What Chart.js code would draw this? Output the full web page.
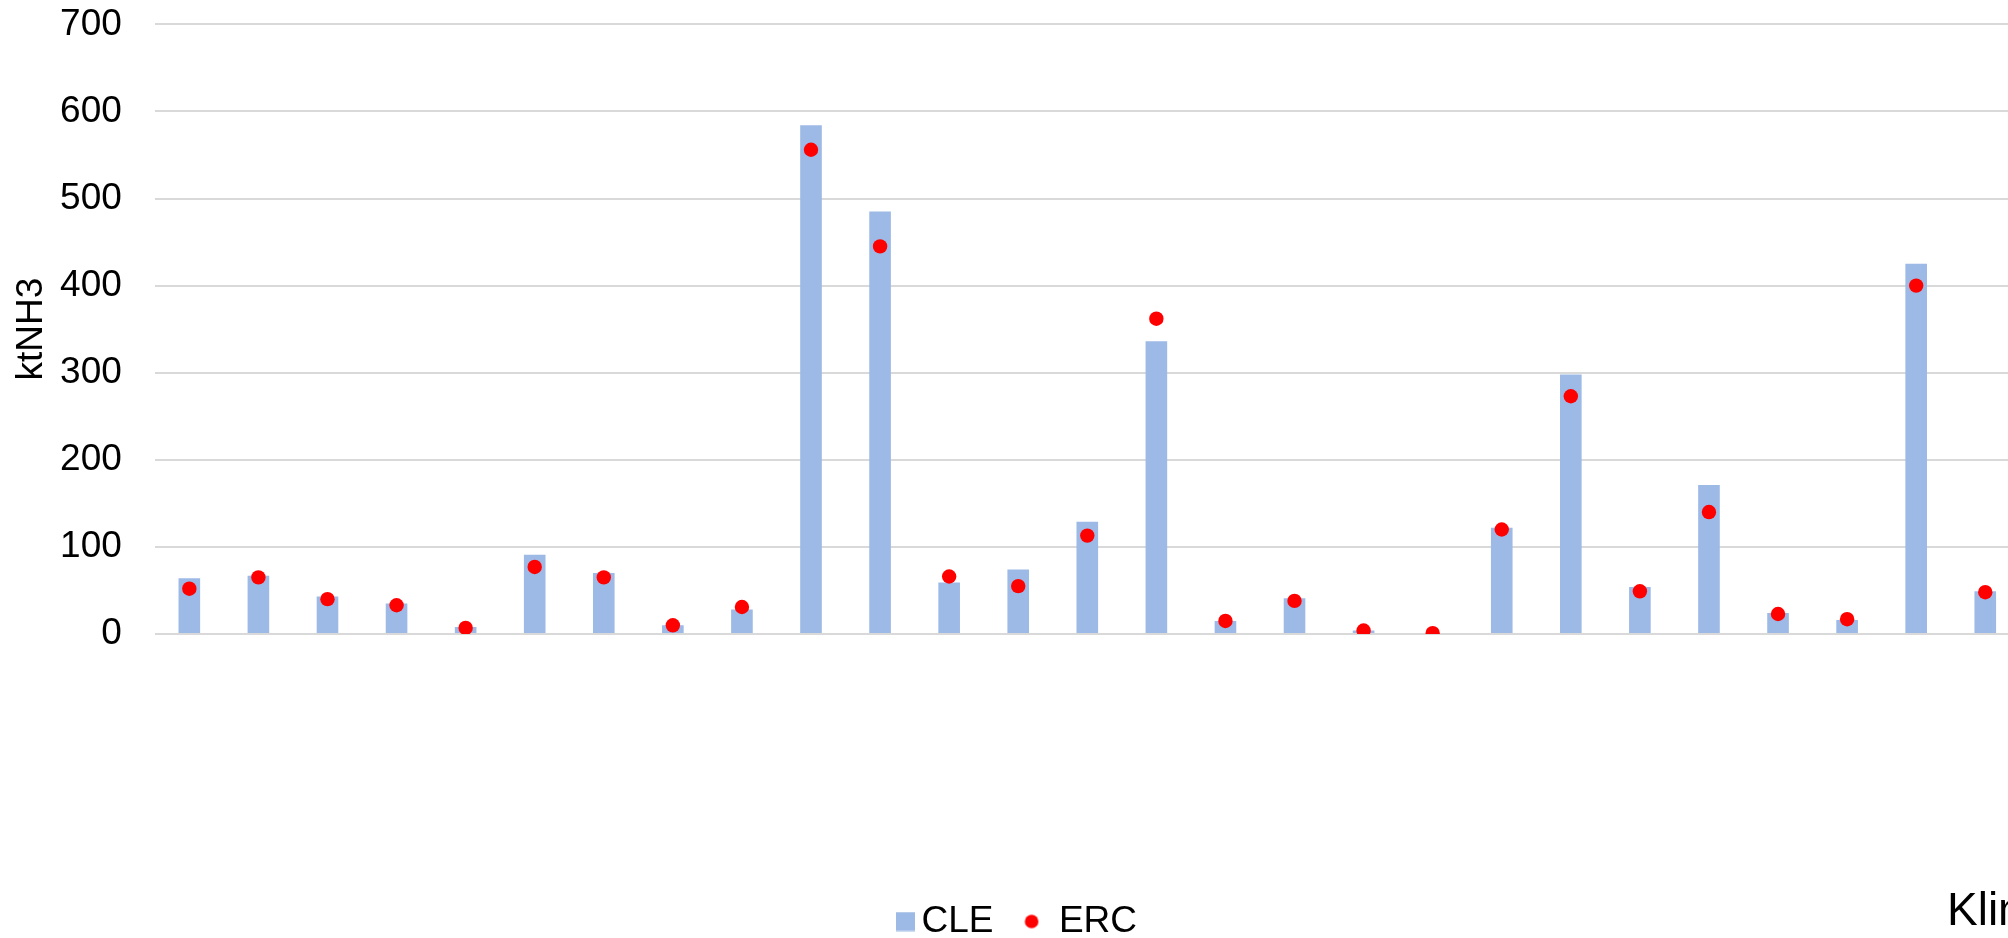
<!DOCTYPE html>
<html>
<head>
<meta charset="utf-8">
<script src="https://cdn.jsdelivr.net/npm/chart.js@4/dist/chart.umd.min.js"></script>
<style>
  html, body { margin: 0; padding: 0; background: #ffffff; overflow: hidden; }
  #wrap { width: 2027px; height: 950px; }
</style>
</head>
<body>
<div id="wrap"><canvas id="c" width="2027" height="950"></canvas></div>
<script>
// ---- data ----
const categories = ['1','2','3','4','5','6','7','8','9','10','11','12','13','14','15','16','17','18','19','20','21','22','23','24','25','26','27'];
const cleValues = [64, 67, 43, 35, 8, 91, 70, 10, 28, 584, 485, 59, 74, 129, 336, 15, 41, 4, 0, 122, 298, 54, 171, 24, 16, 425, 49];
const ercValues = [52, 65, 40, 33, 7, 77, 65, 10, 31, 556, 445, 66, 55, 113, 362, 15, 38, 4, 1, 120, 273, 49, 140, 23, 17, 400, 48];
const seriesNames = ['CLE', 'ERC'];
const yTicks = [0, 100, 200, 300, 400, 500, 600, 700];
const yTitle = 'ktNH3';
const cornerText = 'Klim';

const FONT = "'Liberation Sans', Arial, sans-serif";
const BAR_COLOR = '#9db9e6';
const DOT_COLOR = '#ff0000';

// legend marker images
function squareImg() {
  const c = document.createElement('canvas');
  c.width = 26; c.height = 20;
  const g = c.getContext('2d');
  g.fillStyle = BAR_COLOR;
  g.fillRect(6, 0.5, 19, 19);
  return c;
}
function dotImg() {
  const c = document.createElement('canvas');
  c.width = 40; c.height = 16;
  const g = c.getContext('2d');
  g.fillStyle = DOT_COLOR;
  g.beginPath();
  g.arc(20 - 8.8, 8, 6.8, 0, Math.PI * 2);
  g.fill();
  return c;
}
const legendImgs = [squareImg(), dotImg()];

const cornerTextPlugin = {
  id: 'cornerText',
  afterDraw(chart) {
    const ctx = chart.ctx;
    ctx.save();
    ctx.font = '46px ' + FONT;
    ctx.fillStyle = '#000000';
    ctx.textAlign = 'left';
    ctx.textBaseline = 'alphabetic';
    ctx.fillText(cornerText, 1947, 925);
    ctx.restore();
  }
};

new Chart(document.getElementById('c'), {
  data: {
    labels: categories,
    datasets: [
      {
        type: 'line',
        label: seriesNames[1],
        data: ercValues,
        showLine: false,
        pointRadius: 7.2,
        pointHoverRadius: 7.2,
        pointBackgroundColor: DOT_COLOR,
        pointBorderWidth: 0,
        borderColor: DOT_COLOR,
        backgroundColor: DOT_COLOR,
        order: 0
      },
      {
        type: 'bar',
        label: seriesNames[0],
        data: cleValues,
        backgroundColor: BAR_COLOR,
        borderWidth: 0,
        barPercentage: 1,
        categoryPercentage: 0.313,
        order: 1
      }
    ]
  },
  options: {
    responsive: false,
    animation: false,
    devicePixelRatio: 1,
    layout: { padding: { left: 13, top: 24.3, right: 0, bottom: 0 } },
    plugins: {
      tooltip: { enabled: false },
      legend: {
        position: 'bottom',
        align: 'center',
        labels: {
          usePointStyle: true,
          boxWidth: 0.01,
          padding: 47,
          color: '#000000',
          font: { family: FONT, size: 37 },
          generateLabels(chart) {
            const items = Chart.defaults.plugins.legend.labels.generateLabels(chart);
            items.forEach(it => {
              it.pointStyle = it.text === seriesNames[0] ? legendImgs[0] : legendImgs[1];
            });
            items.sort((a, b) => seriesNames.indexOf(a.text) - seriesNames.indexOf(b.text));
            return items;
          }
        }
      }
    },
    scales: {
      x: {
        display: true,
        offset: true,
        grid: { display: false },
        border: { display: false },
        ticks: { display: false },
        afterFit(scale) {
          scale.height = 222;
          scale.paddingLeft = 0;
          scale.paddingRight = 0;
        }
      },
      y: {
        min: 0,
        max: 700,
        afterBuildTicks(scale) { scale.ticks = yTicks.map(v => ({ value: v })); },
        afterFit(scale) {
          scale.width = 141.8;
          scale.paddingTop = 0;
          scale.paddingBottom = 0;
        },
        grid: { color: '#d9d9d9', lineWidth: 2, drawTicks: false },
        border: { display: false },
        ticks: {
          padding: 33,
          color: '#000000',
          font: { family: FONT, size: 37 }
        },
        title: {
          display: true,
          text: yTitle,
          color: '#000000',
          font: { family: FONT, size: 37, lineHeight: 1 },
          padding: { top: 0, bottom: 10 }
        }
      }
    }
  },
  plugins: [cornerTextPlugin]
});
</script>
</body>
</html>
